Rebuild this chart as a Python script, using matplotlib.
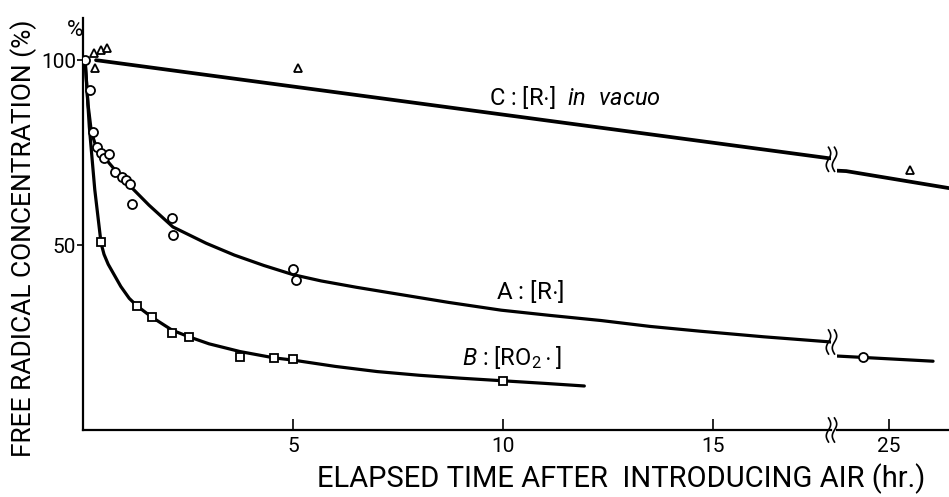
import numpy as np
import matplotlib
matplotlib.use("Agg")
import matplotlib.pyplot as plt
from matplotlib import transforms
from matplotlib import font_manager

# ---------------- data ----------------
# Curve A: [R.] in air  (open circles)
a_pts_t = [0.05, 0.17, 0.24, 0.33, 0.43, 0.50, 0.62, 0.76, 0.93, 1.02, 1.12, 1.17, 2.12, 2.14, 5.0, 5.07, 24.38]
a_pts_v = [100.0, 91.9, 80.5, 76.5, 74.9, 73.5, 74.6, 69.7, 68.4, 67.6, 66.5, 61.1, 57.3, 52.7, 43.5, 40.5, 19.7]
a_line_t = [0.05, 0.12, 0.2, 0.3, 0.45, 0.62, 0.8, 1.1, 1.57, 2.14, 2.93, 3.6, 4.3, 5.0, 5.67, 6.5,
            7.57, 8.7, 9.95, 11.1, 12.33, 13.5, 14.7, 16.2, 17.8, 23.76, 26.05]
a_line_v = [100, 88, 80.5, 77, 74.8, 72.2, 69.8, 66.2, 60.8, 54.9, 50.5, 47.3, 44.5, 42.0, 40.3, 38.6,
            36.6, 34.5, 32.4, 31.0, 29.6, 28.0, 26.7, 25.2, 23.8, 20.0, 18.6]

# Curve B: [RO2.]  (open squares)
b_pts_t = [0.43, 1.29, 1.64, 2.12, 2.52, 3.74, 4.55, 5.0, 10.0]
b_pts_v = [50.8, 33.5, 30.5, 26.2, 25.1, 19.7, 19.5, 19.2, 13.2]
b_line_t = [0.05, 0.15, 0.28, 0.43, 0.5, 0.6, 0.74, 0.9, 1.1, 1.29, 1.64, 2.12, 2.52, 3.0, 3.74,
            4.55, 5.0, 6.0, 7.0, 8.0, 9.0, 10.0, 11.0, 11.93]
b_line_v = [100, 82, 65, 50.5, 47.5, 44.8, 42.0, 38.8, 35.6, 33.5, 30.5, 27, 25.2, 23.3, 21.2,
            19.5, 18.9, 17.2, 15.8, 14.8, 14.0, 13.3, 12.6, 11.9]

# Curve C: [R.] in vacuo  (open triangles)
c_pts_t = [0.26, 0.43, 0.57, 0.29, 5.12, 25.5]
c_pts_v = [102.0, 102.7, 103.2, 97.8, 97.8, 70.3]
c_line_t = [0.31, 17.74, 23.98, 26.43]
c_line_v = [100.0, 73.5, 70.0, 65.4]

x_ticks_left = [5, 10, 15]
x_ticks_right = [25]
y_ticks = [50, 100]

# ---------------- style ----------------
avail = {f.name for f in font_manager.fontManager.ttflist}
fam = [f for f in ["Roboto", "Open Sans", "DejaVu Sans"] if f in avail]
plt.rcParams['font.family'] = fam
plt.rcParams['font.weight'] = 'normal'
plt.rcParams['mathtext.fontset'] = 'custom'
plt.rcParams['mathtext.rm'] = fam[0]
plt.rcParams['mathtext.it'] = fam[0] + ':italic'

W, H, DPI = 949, 497, 100
fig = plt.figure(figsize=(W / DPI, H / DPI), dpi=DPI)

left_px, brk_l_px, brk_r_px, right_px = 83, 831, 837, 949
bot_px, top_px = 430, 18
axb = 1 - bot_px / H
axh = (bot_px - top_px) / H
ax1 = fig.add_axes([left_px / W, axb, (brk_l_px - left_px) / W, axh])
ax2 = fig.add_axes([brk_r_px / W, axb, (right_px - brk_r_px) / W, axh], sharey=ax1)

LW = 2.3
ms_kw = dict(markerfacecolor='white', markeredgecolor='black', markeredgewidth=1.3, linestyle='none', zorder=5)

for ax in (ax1, ax2):
    ax.plot(a_line_t, a_line_v, color='black', lw=LW, solid_capstyle='round', zorder=3)
    ax.plot(b_line_t, b_line_v, color='black', lw=LW, solid_capstyle='round', zorder=3)
    ax.plot(c_line_t, c_line_v, color='black', lw=LW + 0.4, solid_capstyle='round', zorder=3)
    ax.plot(a_pts_t, a_pts_v, marker='o', markersize=6.5, **ms_kw)
    ax.plot(b_pts_t, b_pts_v, marker='s', markersize=6, **ms_kw)
    ax.plot(c_pts_t, c_pts_v, marker='^', markersize=6, **ms_kw)
    for s in ('top', 'right'):
        ax.spines[s].set_visible(False)
    ax.spines['bottom'].set_linewidth(1.6)

ax1.set_xlim(0, 17.8)
ax2.set_xlim(23.76, 26.43)
ax1.set_ylim(0, 111.4)
ax1.spines['left'].set_linewidth(1.6)
ax2.spines['left'].set_visible(False)

ax1.set_xticks(x_ticks_left)
ax2.set_xticks(x_ticks_right)
ax1.set_yticks(y_ticks)
for ax in (ax1, ax2):
    ax.tick_params(axis='x', direction='in', length=8, width=1.2, labelsize=15, pad=5)
ax1.tick_params(axis='y', direction='out', length=4, width=1.2, labelsize=15, pad=1)
ax2.tick_params(axis='y', left=False, labelleft=False)

ax1.annotate('%', xy=(0, 1), xycoords='axes fraction', xytext=(-6, -9),
             textcoords='offset points', ha='center', va='center', fontsize=16)

fig.text(621 / W, 1 - 479 / H, 'ELAPSED TIME AFTER  INTRODUCING AIR (hr.)',
         ha='center', va='center', fontsize=21)
fig.text(24 / W, 1 - 238 / H, 'FREE RADICAL CONCENTRATION (%)', rotation=90,
         ha='center', va='center', fontsize=19)

ax1.text(11.7, 90, r'C : [R$\cdot$]  $\it{in\ \ vacuo}$', ha='center', va='center', fontsize=17)
ax1.text(10.64, 37.5, r'A : [R$\cdot$]', ha='center', va='center', fontsize=17.5)
ax1.text(10.2, 19.5, r'$\it{B}$ : [RO$_2\cdot$]', ha='center', va='center', fontsize=17)

# break symbols (two S-shaped strokes) at the axis break
def draw_break(ax, x, y):
    tr = fig.dpi_scale_trans + transforms.ScaledTranslation(x, y, ax.transData)
    yy = np.linspace(-0.12, 0.12, 40)
    for dx in (-0.025, 0.035):
        xx = dx + 0.022 * np.sin(np.pi * yy / 0.12)
        fig.add_artist(plt.Line2D(xx, yy, transform=tr, color='black', lw=1.2))

xb = 17.8
draw_break(ax1, xb, 0)
draw_break(ax1, xb, 23.8)
draw_break(ax1, xb, 73.2)

fig.savefig('out.png', dpi=DPI)
